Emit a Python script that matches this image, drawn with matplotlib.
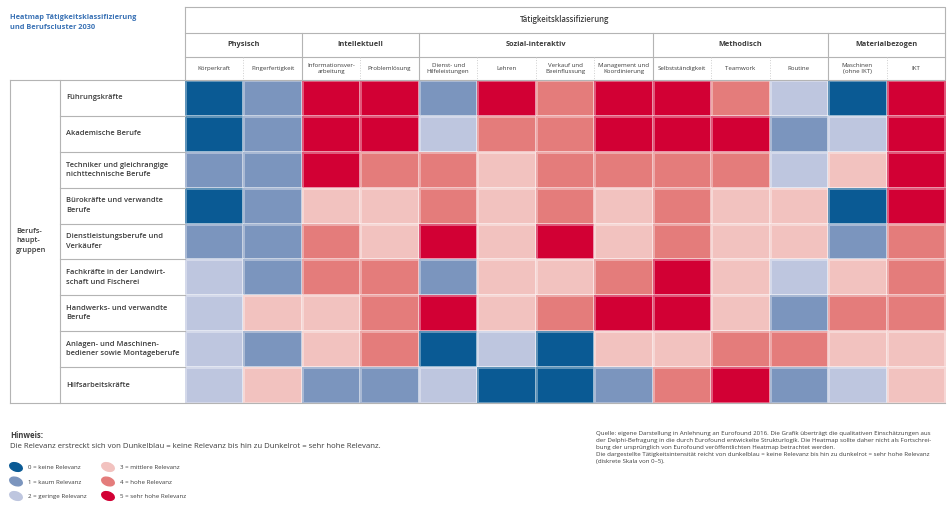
import numpy as np
import matplotlib.pyplot as plt
from matplotlib.colors import ListedColormap, BoundaryNorm
from matplotlib.patches import Ellipse

plt.rcParams['font.family'] = ['Open Sans', 'DejaVu Sans']

# Daten
berufe = [
    "Führungskräfte",
    "Akademische Berufe",
    "Techniker und gleichrangige\nnichttechnische Berufe",
    "Bürokräfte und verwandte\nBerufe",
    "Dienstleistungsberufe und\nVerkäufer",
    "Fachkräfte in der Landwirt-\nschaft und Fischerei",
    "Handwerks- und verwandte\nBerufe",
    "Anlagen- und Maschinen-\nbediener sowie Montageberufe",
    "Hilfsarbeitskräfte",
]
taetigkeiten = [
    "Körperkraft", "Fingerfertigkeit", "Informationsver-\narbeitung", "Problemlösung",
    "Dienst- und\nHilfeleistungen", "Lehren", "Verkauf und\nBeeinflussung",
    "Management und\nKoordinierung", "Selbstständigkeit", "Teamwork", "Routine",
    "Maschinen\n(ohne IKT)", "IKT",
]
gruppen = ["Physisch", "Intellektuell", "Sozial-interaktiv", "Methodisch", "Materialbezogen"]
gruppen_breite = [2, 2, 4, 3, 2]

relevanz = np.array([
    [0, 1, 5, 5, 1, 5, 4, 5, 5, 4, 2, 0, 5],
    [0, 1, 5, 5, 2, 4, 4, 5, 5, 5, 1, 2, 5],
    [1, 1, 5, 4, 4, 3, 4, 4, 4, 4, 2, 3, 5],
    [0, 1, 3, 3, 4, 3, 4, 3, 4, 3, 3, 0, 5],
    [1, 1, 4, 3, 5, 3, 5, 3, 4, 3, 3, 1, 4],
    [2, 1, 4, 4, 1, 3, 3, 4, 5, 3, 2, 3, 4],
    [2, 3, 3, 4, 5, 3, 4, 5, 5, 3, 1, 4, 4],
    [2, 1, 3, 4, 0, 2, 0, 3, 3, 4, 4, 3, 3],
    [2, 3, 1, 1, 2, 0, 0, 1, 4, 5, 1, 2, 3],
])

stufen = ["0 = keine Relevanz", "1 = kaum Relevanz", "2 = geringe Relevanz",
          "3 = mittlere Relevanz", "4 = hohe Relevanz", "5 = sehr hohe Relevanz"]
farben = ["#0a5a94", "#7b95be", "#bec6df", "#f2c2bf", "#e47c7b", "#d20034"]

quelle = ("Quelle: eigene Darstellung in Anlehnung an Eurofound 2016. Die Grafik überträgt die qualitativen Einschätzungen aus\n"
          "der Delphi-Befragung in die durch Eurofound entwickelte Strukturlogik. Die Heatmap sollte daher nicht als Fortschrei-\n"
          "bung der ursprünglich von Eurofound veröffentlichten Heatmap betrachtet werden.\n"
          "Die dargestellte Tätigkeitsintensität reicht von dunkelblau = keine Relevanz bis hin zu dunkelrot = sehr hohe Relevanz\n"
          "(diskrete Skala von 0–5).")

cmap = ListedColormap(farben)
norm = BoundaryNorm(np.arange(-0.5, 6.5, 1), cmap.N)

fig = plt.figure(figsize=(9.47, 5.11), dpi=100)
ax = fig.add_axes([0, 0, 1, 1])
ax.set_xlim(0, 947)
ax.set_ylim(511, 0)
ax.axis('off')

linie = '#b4b4b4'
txt = '#3c3c3c'

# Heatmap
x_edges = np.linspace(185, 945, len(taetigkeiten) + 1)
y_edges = np.linspace(80, 403, len(berufe) + 1)
ax.pcolormesh(x_edges, y_edges, relevanz, cmap=cmap, norm=norm,
              edgecolors=(1, 1, 1, 0.35), linewidth=0.8)

# Kopfbereich
ax.plot([185, 945, 945, 185, 185], [7, 7, 80, 80, 7], color=linie, lw=0.8)
ax.plot([185, 945], [33, 33], color=linie, lw=0.8)
ax.plot([185, 945], [57, 57], color=linie, lw=0.8)
ax.text(565, 20, "Tätigkeitsklassifizierung", ha='center', va='center',
        fontsize=5.6, color=txt, weight='semibold')

grenzen = np.concatenate([[0], np.cumsum(gruppen_breite)])
for g, name in enumerate(gruppen):
    x0, x1 = x_edges[grenzen[g]], x_edges[grenzen[g + 1]]
    ax.text((x0 + x1) / 2, 45, name, ha='center', va='center',
            fontsize=5.3, color=txt, weight='bold')
    if g > 0:
        ax.plot([x0, x0], [33, 80], color=linie, lw=0.8)

for i, name in enumerate(taetigkeiten):
    xc = (x_edges[i] + x_edges[i + 1]) / 2
    ax.text(xc, 68.5, name, ha='center', va='center', fontsize=4.4,
            color=txt, linespacing=1.3)
    if i > 0 and i not in grenzen:
        ax.plot([x_edges[i], x_edges[i]], [57, 80], color='#cfcfcf', lw=0.7, ls=':')

# Zeilenbeschriftung
ax.plot([10, 185], [80, 80], color=linie, lw=0.8)
ax.plot([10, 945], [403, 403], color=linie, lw=0.8)
ax.plot([10, 10], [80, 403], color=linie, lw=0.8)
ax.plot([60, 60], [80, 403], color=linie, lw=0.8)
for j, name in enumerate(berufe):
    yc = (y_edges[j] + y_edges[j + 1]) / 2
    ax.text(66, yc, name, ha='left', va='center', fontsize=5.4,
            color=txt, weight='semibold', linespacing=1.45)
    if j > 0:
        ax.plot([60, 185], [y_edges[j], y_edges[j]], color=linie, lw=0.8)
ax.text(16, 241, "Berufs-\nhaupt-\ngruppen", ha='left', va='center',
        fontsize=5.3, color=txt, weight='semibold', linespacing=1.5)

# Titel
ax.text(10, 22.5, "Heatmap Tätigkeitsklassifizierung\nund Berufscluster 2030",
        ha='left', va='center', fontsize=5.3, color='#3a72b5', weight='bold',
        linespacing=1.75)

# Hinweis / Legende
ax.text(10, 435, "Hinweis:", ha='left', va='center', fontsize=5.6,
        color=txt, weight='bold')
ax.text(10, 447, "Die Relevanz erstreckt sich von Dunkelblau = keine Relevanz "
        "bis hin zu Dunkelrot = sehr hohe Relevanz.", ha='left', va='center',
        fontsize=5.6, color=txt)
for k, (lab, col) in enumerate(zip(stufen, farben)):
    xm = 16 + (k // 3) * 92
    ym = 467 + (k % 3) * 14.5
    ax.add_patch(Ellipse((xm, ym), 13, 8, angle=20, color=col))
    ax.text(xm + 12, ym + 0.5, lab, ha='left', va='center', fontsize=4.4, color=txt)

ax.text(596, 431, quelle, ha='left', va='top', fontsize=4.4, color=txt,
        linespacing=1.5)

fig.savefig('out.png', dpi=100)
